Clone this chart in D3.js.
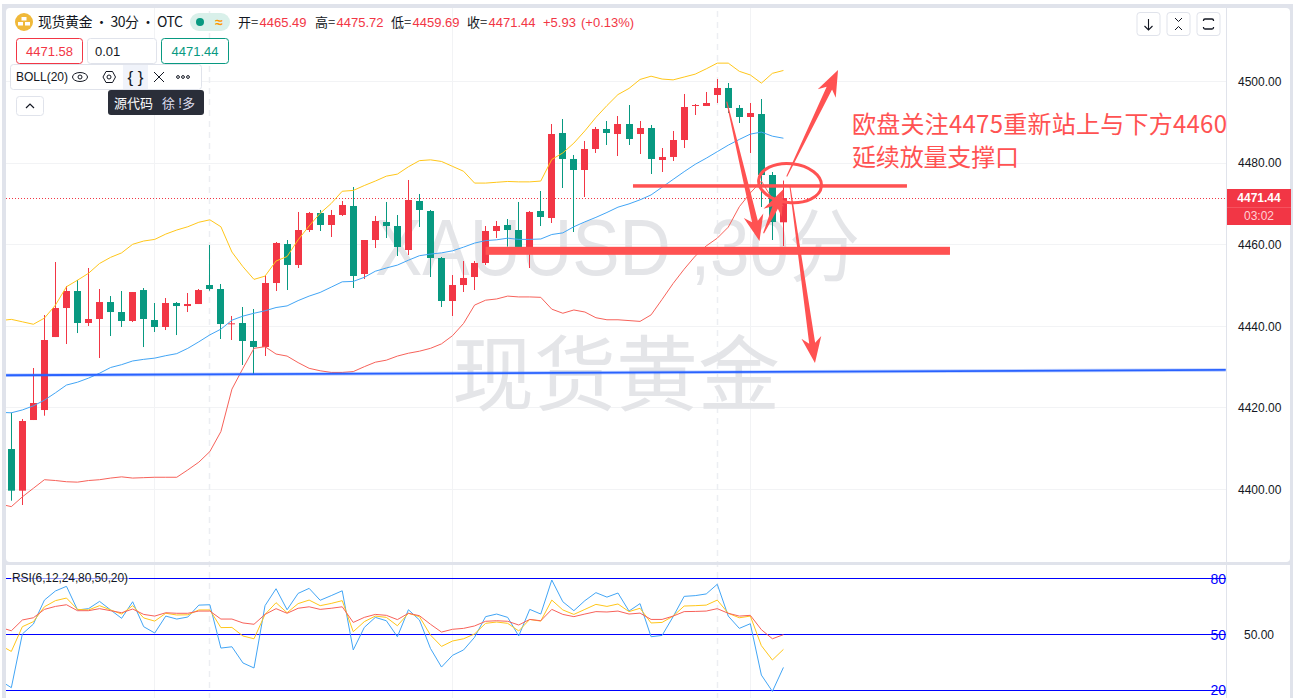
<!DOCTYPE html>
<html lang="zh"><head><meta charset="utf-8">
<style>html,body{margin:0;padding:0;background:#fff;overflow:hidden}svg{display:block}text{font-family:"Liberation Sans","Noto Sans CJK SC",sans-serif}</style>
<script src="https://cdn.jsdelivr.net/npm/d3@7"></script></head><body><svg id="c" width="1293" height="698"></svg>
<script>
const opens=[4409.92,4399.71,4417.03,4419.48,4437.37,4444.48,4448.65,4440.81,4441.79,4445.95,4443.50,4441.30,4448.89,4441.54,4439.83,4445.71,4444.97,4445.46,4450.12,4449.14,4440.56,4440.81,4436.40,4434.93,4450.61,4460.17,4455.03,4463.60,4467.77,4464.83,4467.28,4469.49,4452.82,4461.15,4465.56,4464.58,4458.70,4470.71,4468.26,4456.74,4446.20,4450.12,4452.08,4455.52,4463.36,4464.83,4463.60,4458.70,4468.26,4466.54,4487.38,4481.01,4478.31,4483.46,4488.36,4487.13,4489.58,4487.13,4488.60,4480.76,4481.50,4485.66,4494.00,4494.00,4496.69,4498.41,4493.51,4491.30,4492.03,4477.08,4465.49];
const highs=[4418.83,4417.28,4429.78,4442.77,4455.76,4449.87,4451.35,4454.29,4449.14,4447.42,4448.65,4448.40,4449.38,4445.71,4446.93,4445.95,4448.16,4449.14,4459.93,4450.37,4442.53,4444.73,4444.24,4452.33,4460.66,4461.15,4468.02,4468.02,4468.51,4468.51,4470.71,4474.14,4461.15,4467.04,4470.47,4467.28,4475.86,4472.43,4468.51,4456.99,4452.57,4456.01,4456.01,4464.58,4465.81,4466.30,4470.47,4468.26,4473.16,4489.58,4490.81,4481.99,4485.42,4488.85,4490.32,4491.54,4494.24,4490.32,4489.34,4483.70,4487.87,4496.94,4494.49,4497.43,4500.61,4499.63,4494.24,4494.73,4495.71,4477.82,4475.72];
const lows=[4397.26,4396.20,4417.03,4418.09,4437.37,4435.66,4438.35,4440.07,4432.23,4437.62,4439.83,4441.05,4434.92,4438.60,4439.09,4437.86,4443.50,4445.46,4448.73,4436.89,4436.64,4430.52,4428.31,4432.72,4448.65,4448.90,4454.29,4463.11,4463.36,4461.89,4467.04,4449.39,4451.59,4459.19,4461.64,4457.23,4457.48,4464.34,4452.08,4444.73,4442.53,4448.41,4448.90,4455.02,4461.64,4459.52,4459.20,4454.29,4464.58,4465.32,4473.90,4463.11,4471.69,4482.48,4484.44,4481.74,4484.44,4482.23,4477.33,4477.82,4480.52,4483.70,4491.79,4494.00,4494.73,4492.28,4489.83,4482.48,4469.24,4461.15,4459.69];
const closes=[4399.71,4416.79,4421.20,4436.64,4444.48,4448.65,4440.81,4441.79,4445.95,4443.50,4441.30,4448.40,4441.79,4439.83,4445.71,4444.97,4445.46,4448.89,4449.14,4440.56,4440.73,4436.40,4434.93,4450.61,4460.42,4455.03,4463.60,4467.77,4464.83,4467.28,4469.73,4452.33,4461.15,4465.81,4464.58,4459.44,4470.96,4468.51,4456.74,4446.20,4450.12,4451.84,4455.52,4463.36,4464.58,4463.60,4459.44,4468.02,4466.79,4487.13,4481.01,4478.31,4483.46,4488.36,4487.38,4489.58,4485.91,4488.60,4481.01,4481.50,4485.66,4493.75,4494.24,4494.73,4498.41,4493.51,4491.30,4492.28,4477.08,4465.56,4471.44];
// indicator series start one bar before the first visible candle (index -1)
const bollUpper=[4441.4,4441.7,4441.1,4440.5,4442.0,4445.2,4449.7,4451.3,4453.0,4455.4,4456.9,4458.0,4460.1,4460.9,4461.3,4462.6,4463.6,4464.4,4465.5,4466.1,4464.4,4458.2,4454.6,4451.5,4452.3,4456.0,4457.1,4461.2,4464.6,4467.7,4470.1,4473.1,4473.3,4474.5,4475.6,4476.8,4477.3,4479.1,4480.6,4480.8,4480.4,4479.2,4478.0,4475.1,4475.1,4475.3,4475.5,4475.4,4475.4,4475.6,4480.9,4482.5,4484.9,4487.9,4491.2,4494.1,4496.8,4498.3,4500.5,4501.3,4500.6,4500.4,4501.1,4501.8,4503.1,4504.5,4504.5,4502.5,4501.6,4499.6,4502.0,4502.7];
const bollMid=[4418.9,4418.8,4419.5,4420.5,4421.9,4423.7,4425.6,4426.3,4427.3,4428.5,4429.9,4430.6,4431.5,4431.9,4432.2,4432.8,4433.3,4434.6,4436.2,4437.9,4439.3,4441.5,4442.5,4443.2,4443.8,4444.6,4445.0,4446.3,4447.4,4448.3,4449.6,4450.9,4451.0,4452.0,4453.5,4454.3,4455.0,4456.2,4457.3,4457.7,4458.0,4458.5,4459.4,4460.4,4461.0,4461.2,4461.6,4461.3,4461.3,4461.4,4462.5,4462.9,4464.4,4465.6,4466.7,4467.9,4469.2,4470.0,4471.0,4472.2,4474.1,4476.0,4477.9,4479.7,4481.2,4482.8,4484.4,4485.8,4487.1,4487.6,4486.6,4486.1];
const bollLower=[4396.4,4395.8,4398.2,4400.3,4402.4,4402.2,4401.9,4401.8,4402.2,4402.4,4402.8,4403.1,4402.8,4402.9,4403.0,4403.0,4403.0,4404.8,4406.7,4409.3,4414.2,4424.6,4429.7,4434.6,4435.0,4433.2,4432.7,4431.1,4429.7,4429.1,4428.7,4428.7,4428.9,4430.1,4431.2,4431.7,4432.7,4433.4,4433.9,4434.6,4435.7,4437.7,4440.7,4445.2,4446.4,4446.7,4447.4,4447.2,4447.2,4447.1,4444.2,4443.2,4444.0,4443.5,4442.1,4441.6,4441.6,4441.4,4441.2,4442.8,4446.6,4450.5,4454.0,4457.2,4459.7,4461.6,4464.3,4469.3,4472.7,4475.6,4471.2,4469.5];
const rsi6=[25.2,21.4,50.3,55.6,68.5,73.4,75.9,63.2,63.9,67.8,63.2,58.7,67.6,54.2,50.8,59.9,58.3,59.4,65.8,66.0,42.7,43.4,34.7,32.0,65.5,74.6,63.3,72.1,74.8,68.4,70.9,73.5,41.7,53.8,59.2,57.4,48.8,63.3,57.8,42.5,32.5,38.8,41.7,48.5,59.6,61.0,59.2,49.2,63.5,61.0,79.3,67.6,62.8,68.2,72.5,70.1,72.3,62.6,66.6,48.8,49.5,59.6,70.5,70.9,71.8,77.0,59.9,53.3,55.8,28.2,19.4,32.3];
const rsi12=[44.2,40.9,54.2,56.9,64.9,68.2,69.6,63.5,63.2,65.5,63.2,61.0,65.5,58.9,57.2,61.4,60.5,60.6,63.2,63.2,53.7,53.8,49.2,47.7,60.8,67.1,61.7,66.6,68.5,65.5,66.7,68.2,51.5,56.9,59.9,59.2,54.7,61.4,59.6,49.7,43.6,46.5,47.7,50.3,56.0,56.7,56.0,51.9,58.1,57.2,68.5,63.2,60.8,63.5,66.2,65.1,66.4,62.3,64.1,56.2,56.5,59.9,65.3,65.5,65.8,68.5,61.4,59.0,59.9,44.0,36.3,42.0];
const rsi24=[53.8,52.0,57.8,59.0,63.5,65.1,66.0,62.8,62.8,63.9,62.8,61.7,63.7,60.8,59.9,61.7,61.4,61.4,62.6,62.6,58.3,58.3,56.2,55.5,60.8,63.9,61.4,64.1,64.9,63.5,64.1,64.9,56.5,59.2,60.8,60.3,58.0,61.4,60.1,55.5,51.3,52.8,53.3,54.6,57.1,57.4,57.1,55.1,58.1,57.4,63.5,60.8,59.6,61.0,62.3,62.1,62.6,61.0,61.5,58.1,58.1,59.9,62.3,62.4,62.6,63.9,61.4,59.9,60.3,52.6,47.7,49.9];
const priceTicks=[4500,4480,4460,4440,4420,4400];
const rsiLevels=[80,50,20];
const lastPrice=4471.44;
const breakBars=[18,64];            // dashed session separators
const gridBars=[13,40,67];          // plain vertical grid lines
const trendLine=[{i:-0.48,p:4428.0},{i:110.1,p:4429.3}];
const hLines=[{i0:56.36,i1:81.2,p:4474.4,w:3.5},{i0:43.0,i1:85.1,p:4458.5,w:8}];
const ring={i:70.6,p:4475.1,ri:2.86,rp:4.78,rot:6};
const arrows=[
 {from:[70.3,4476.7],to:[74.95,4502.8]},
 {from:[64.86,4495.05],to:[67.83,4460.9]},
 {from:[68.2,4462.8],to:[69.99,4473.6]},
 {from:[70.6,4474.2],to:[72.86,4431.0]}];
const noteLines=["欧盘关注4475重新站上与下方4460","延续放量支撑口"];
const watermark=["XAUUSD ,30分","现货黄金"];
const title="现货黄金 • 30分 • OTC";
const ohlc=[["开=","4465.49",238],["高=","4475.72",315],["低=","4459.69",391],["收=","4471.44",467]];

const RED="#f23645",GREEN="#089981",ANN="#ff5252",FRAME="#e0e3eb",GRID="#f2f3f5",YEL="#ffc61a",BLU="#42a5f5",LOW="#f7625a";
const svg=d3.select("#c");
const x=d3.scaleLinear().domain([0,70]).range([11.33,783.43]);
const y=d3.scaleLinear().domain([4400,4500]).range([489.5,81.5]);
const ry=d3.scaleLinear().domain([20,80]).range([690.3,578.7]);
const L=6,R=1226.5,T=8,B=562,RT=565,RB=698;

svg.append("rect").attr("x",2).attr("y",4).attr("width",1291).attr("height",694).attr("fill",FRAME);
svg.append("rect").attr("x",L).attr("y",T).attr("width",1284).attr("height",B-T).attr("rx",4).attr("fill","#fff");
svg.append("rect").attr("x",L).attr("y",RT).attr("width",1284).attr("height",RB-RT).attr("fill","#fff");
const defs=svg.append("defs");
defs.append("clipPath").attr("id","cm").append("rect").attr("x",L).attr("y",T).attr("width",R-L).attr("height",B-T);
defs.append("clipPath").attr("id","cr").append("rect").attr("x",L).attr("y",RT).attr("width",R-L).attr("height",RB-RT);
const main=svg.append("g").attr("clip-path","url(#cm)");
const low=svg.append("g").attr("clip-path","url(#cr)");
const crisp=v=>Math.floor(v)+.5;

// grid
main.selectAll(".gh").data(priceTicks).join("line").attr("x1",L).attr("x2",R).attr("y1",d=>crisp(y(d))).attr("y2",d=>crisp(y(d))).attr("stroke",GRID);
[main,low].forEach(g=>{
 g.selectAll(".gv").data(gridBars).join("line").attr("x1",d=>crisp(x(d))).attr("x2",d=>crisp(x(d))).attr("y1",0).attr("y2",698).attr("stroke",GRID);
 g.selectAll(".gb").data(breakBars).join("line").attr("x1",d=>crisp(x(d))).attr("x2",d=>crisp(x(d))).attr("y1",0).attr("y2",698).attr("stroke","#eceef2").attr("stroke-width",1.5).attr("stroke-dasharray","6 5");
});

// watermark
main.append("text").attr("x",375).attr("y",275).attr("font-size",80).attr("fill","#e4e5e8").attr("textLength",485).attr("lengthAdjust","spacingAndGlyphs").style("font-family",'"Liberation Sans","Noto Sans CJK SC"').text(watermark[0]);
main.append("text").attr("x",616).attr("y",404).attr("text-anchor","middle").attr("font-size",82).attr("fill","#e4e5e8").style("font-family",'"Noto Sans CJK SC"').text(watermark[1]);

// dotted last-price line
main.append("line").attr("x1",L).attr("x2",R).attr("y1",crisp(y(lastPrice))).attr("y2",crisp(y(lastPrice))).attr("stroke",RED).attr("stroke-dasharray","1 2");

// candles
const bars=opens.map((o,i)=>({i,o,h:highs[i],l:lows[i],c:closes[i]}));
const colr=d=>d.c>=d.o?RED:GREEN;
main.selectAll(".w").data(bars).join("rect").attr("x",d=>Math.floor(x(d.i))).attr("width",1).attr("y",d=>y(d.h)).attr("height",d=>y(d.l)-y(d.h)).attr("fill",colr);
main.selectAll(".b").data(bars).join("rect").attr("x",d=>Math.floor(x(d.i))-3).attr("width",7).attr("y",d=>y(Math.max(d.o,d.c))).attr("height",d=>Math.max(1,Math.abs(y(d.o)-y(d.c)))).attr("fill",colr);

// bollinger
const series=a=>a.map((v,k)=>[k-1,v]);
const lineP=d3.line().x(d=>x(d[0])).y(d=>y(d[1]));
const lineR=d3.line().x(d=>x(d[0])).y(d=>ry(d[1]));
[[bollUpper,YEL],[bollMid,BLU],[bollLower,LOW]].forEach(([a,c])=>main.append("path").attr("d",lineP(series(a))).attr("fill","none").attr("stroke",c).attr("stroke-width",1));

// trend line
const tl=d3.line().x(d=>x(d.i)).y(d=>y(d.p));
main.append("path").attr("d",tl(trendLine)).attr("stroke","#2962ff").attr("stroke-opacity",.3).attr("stroke-width",3.5).attr("fill","none");
main.append("path").attr("d",tl(trendLine)).attr("stroke","#2962ff").attr("stroke-width",1.8).attr("fill","none");

// annotations
svg.selectAll(".hl").data(hLines).join("rect").attr("x",d=>x(d.i0)).attr("width",d=>x(d.i1)-x(d.i0)).attr("y",d=>y(d.p)-d.w/2).attr("height",d=>d.w).attr("fill",ANN);
svg.append("ellipse").attr("cx",x(ring.i)).attr("cy",y(ring.p)).attr("rx",x(ring.ri)-x(0))
 .attr("ry",Math.abs(y(4400+ring.rp)-y(4400))).attr("transform",`rotate(${ring.rot} ${x(ring.i)} ${y(ring.p)})`).attr("fill","none").attr("stroke",ANN).attr("stroke-width",3);
function arrowPath(a){
 const x0=x(a.from[0]),y0=y(a.from[1]),x1=x(a.to[0]),y1=y(a.to[1]);
 const len=Math.hypot(x1-x0,y1-y0),ux=(x1-x0)/len,uy=(y1-y0)/len,nx=-uy,ny=ux;
 const pt=(along,off)=>[x0+ux*along+nx*off,y0+uy*along+ny*off];
 const neck=len-20,base=len-26;
 return d3.line()([pt(0,.5),pt(neck,3),pt(base,10),pt(len,0),pt(base,-10),pt(neck,-3),pt(0,-.5)])+"Z";
}
svg.selectAll(".ar").data(arrows).join("path").attr("d",arrowPath).attr("fill",ANN);

// axis
const axis=d3.axisRight(y).tickValues(priceTicks).tickSize(0).tickPadding(0).tickFormat(d3.format(".2f"));
const ag=svg.append("g").attr("transform","translate(1238,0)").call(axis);
ag.select(".domain").remove();
ag.selectAll("text").attr("font-size",12).attr("fill","#131722").style("font-family",'"Liberation Sans"').attr("x",0);
svg.append("line").attr("x1",R).attr("x2",R).attr("y1",T).attr("y2",B).attr("stroke",FRAME);
svg.append("line").attr("x1",R).attr("x2",R).attr("y1",RT).attr("y2",RB).attr("stroke",FRAME);
svg.append("rect").attr("x",1227).attr("y",189).attr("width",64).attr("height",36).attr("fill",RED);
svg.append("line").attr("x1",1227).attr("x2",1291).attr("y1",207.5).attr("y2",207.5).attr("stroke","#f5525f");
svg.append("text").attr("x",1259).attr("y",202).attr("text-anchor","middle").attr("font-size",12).attr("font-weight",700).attr("fill","#fff").text(lastPrice.toFixed(2));
svg.append("text").attr("x",1259).attr("y",220).attr("text-anchor","middle").attr("font-size",12).attr("fill","#ffd0d4").text("03:02");

// note
svg.append("text").attr("x",852).attr("y",133).attr("font-size",24).attr("fill",ANN).attr("textLength",375).attr("lengthAdjust","spacing").style("font-family",'"Noto Sans CJK SC"').text(noteLines[0]);
svg.append("text").attr("x",852).attr("y",166).attr("font-size",24).attr("fill",ANN).attr("textLength",167).style("font-family",'"Noto Sans CJK SC"').text(noteLines[1]);

// RSI pane
low.selectAll(".lv").data(rsiLevels).join("line").attr("x1",L).attr("x2",R).attr("y1",d=>crisp(ry(d))).attr("y2",d=>crisp(ry(d))).attr("stroke","#0000ff").attr("stroke-width",1);
[[rsi6,BLU],[rsi12,YEL],[rsi24,LOW]].forEach(([a,c])=>low.append("path").attr("d",lineR(series(a))).attr("fill","none").attr("stroke",c).attr("stroke-width",1));
svg.append("rect").attr("x",11).attr("y",571).attr("width",118).attr("height",15).attr("fill","#fff").attr("opacity",.6);
svg.append("text").attr("x",12).attr("y",582).attr("font-size",12).attr("fill","#131722").attr("textLength",116).text("RSI(6,12,24,80,50,20)");
svg.selectAll(".rl").data(rsiLevels).join("text").attr("x",1226).attr("y",d=>ry(d)+5).attr("text-anchor","end").attr("font-size",14).attr("fill","#0000ff").text(d=>d);
svg.append("text").attr("x",1259).attr("y",ry(50)+4).attr("text-anchor","middle").attr("font-size",12).attr("fill","#131722").text("50.00");

// header
svg.append("circle").attr("cx",24).attr("cy",22).attr("r",9).attr("fill","#f0b93a");
[[20.5,23.5],[27.5,23.5],[24,18.5]].forEach(p=>svg.append("rect").attr("x",p[0]-2.5).attr("y",p[1]-1.5).attr("width",5).attr("height",3.5).attr("fill","#fff"));
svg.append("text").attr("x",38).attr("y",27).attr("font-size",14).attr("fill","#131722").attr("textLength",145).style("font-family",'"Noto Sans CJK SC"').text(title);
svg.append("rect").attr("x",190).attr("y",13).attr("width",40).attr("height",18).attr("rx",9).attr("fill","#d9f0ea");
svg.append("circle").attr("cx",200).attr("cy",22).attr("r",4).attr("fill",GREEN);
svg.append("text").attr("x",219).attr("y",27).attr("text-anchor","middle").attr("font-size",14).attr("font-weight",700).attr("fill","#ff9800").text("≈");
ohlc.forEach(([k,v,px])=>{
 svg.append("text").attr("x",px).attr("y",27).attr("font-size",13).attr("fill","#131722").style("font-family",'"Noto Sans CJK SC"').text(k);
 svg.append("text").attr("x",px+21.5).attr("y",27).attr("font-size",13).attr("fill",RED).text(v);
});
svg.append("text").attr("x",543).attr("y",27).attr("font-size",13).attr("fill",RED).text("+5.93");
svg.append("text").attr("x",581).attr("y",27).attr("font-size",13).attr("fill",RED).text("(+0.13%)");

const box=(bx,by,w,h,stroke,fill)=>svg.append("rect").attr("x",bx).attr("y",by).attr("width",w).attr("height",h).attr("rx",3).attr("fill",fill||"#fff").attr("stroke",stroke);
box(16.5,38.5,66,25,RED);
svg.append("text").attr("x",49.5).attr("y",56).attr("text-anchor","middle").attr("font-size",13).attr("fill",RED).text("4471.58");
box(87.5,38.5,69,25,FRAME);
svg.append("text").attr("x",95).attr("y",56).attr("font-size",13).attr("fill","#131722").text("0.01");
box(161.5,38.5,67,25,GREEN);
svg.append("text").attr("x",195).attr("y",56).attr("text-anchor","middle").attr("font-size",13).attr("fill",GREEN).text("4471.44");

// indicator toolbar
box(10.5,64.5,191,25,FRAME);
svg.append("rect").attr("x",123).attr("y",65).attr("width",25).attr("height",24).attr("fill","#f0f3fa");
svg.append("text").attr("x",16).attr("y",81).attr("font-size",12).attr("fill","#131722").text("BOLL(20)");
const ink="#131722";
svg.append("ellipse").attr("cx",80).attr("cy",77).attr("rx",7.5).attr("ry",4.5).attr("fill","none").attr("stroke",ink);
svg.append("circle").attr("cx",80).attr("cy",77).attr("r",2).attr("fill","none").attr("stroke",ink);
svg.append("path").attr("d",d3.line()([[103,77],[106,71.5],[112.5,71.5],[115.5,77],[112.5,82.5],[106,82.5]])+"Z").attr("fill","none").attr("stroke",ink);
svg.append("circle").attr("cx",109).attr("cy",77).attr("r",2).attr("fill","none").attr("stroke",ink);
svg.append("text").attr("x",135.5).attr("y",82.5).attr("text-anchor","middle").attr("font-size",17).attr("fill",ink).text("{ }");
svg.append("path").attr("d","M154 72L164 82M164 72L154 82").attr("stroke",ink).attr("fill","none");
[178,183,188].forEach(cx=>svg.append("circle").attr("cx",cx).attr("cy",77).attr("r",1.4).attr("fill","none").attr("stroke",ink));
svg.append("rect").attr("x",108).attr("y",90).attr("width",96).attr("height",25).attr("rx",3).attr("fill","#2a2e39");
svg.append("text").attr("x",114).attr("y",108).attr("font-size",13).attr("fill","#fff").style("font-family",'"Noto Sans CJK SC"').text("源代码");
svg.append("text").attr("x",162).attr("y",108).attr("font-size",13).attr("fill","#dde").style("font-family",'"Noto Sans CJK SC"').text("徐 !多");
box(16.5,96.5,27,19,FRAME);
svg.append("path").attr("d","M26 108L30 104L34 108").attr("fill","none").attr("stroke",ink).attr("stroke-width",1.2);

// top-right buttons
[1137,1167,1197].forEach(bx=>box(bx,12.5,23,23,FRAME));
svg.append("path").attr("d","M1148.5 19V30M1144.5 26L1148.5 30L1152.5 26").attr("fill","none").attr("stroke",ink).attr("stroke-width",1.1);
svg.append("path").attr("d","M1175 18L1178.5 21.5L1182 18M1175 30L1178.5 26.5L1182 30").attr("fill","none").attr("stroke",ink);
svg.append("path").attr("d","M1203.5 21V20.5Q1203.5 19 1205 19H1212Q1213.5 19 1213.5 20.5V21M1203.5 27V27.5Q1203.5 29 1205 29H1212Q1213.5 29 1213.5 27.5V27").attr("fill","none").attr("stroke",ink).attr("stroke-width",1.3);
</script></body></html>
